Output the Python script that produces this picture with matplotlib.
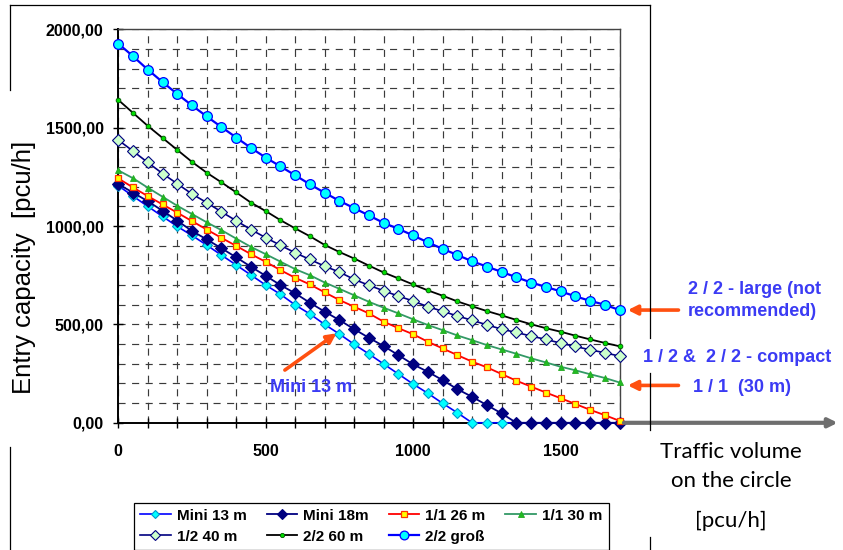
import matplotlib
matplotlib.use("Agg")
import matplotlib.pyplot as plt
from matplotlib.ticker import MultipleLocator, FuncFormatter, FixedLocator
from matplotlib.lines import Line2D

# ---------------- data ----------------
traffic = list(range(0, 1701, 50))  # circulating traffic volume [pcu/h]

mini_13 = [1205, 1152, 1100, 1049, 998, 952, 903, 852, 802, 751, 700, 653, 599, 553,
           500, 451, 399, 350, 299, 248, 197, 150, 99, 51, 0,
           0, 0, 0, 0, 0, 0, 0, 0, 0, 0]
mini_18 = [1213, 1170, 1126, 1078, 1027, 975, 932, 887, 841, 793, 747, 700, 658, 610,
           565, 522, 476, 432, 390, 344, 297, 259, 217, 171, 132, 90, 48,
           0, 0, 0, 0, 0, 0, 0, 0]
r11_26 = [1242, 1196, 1152, 1110, 1068, 1025, 982, 940, 899, 857, 818, 776, 737, 703,
          663, 624, 590, 556, 514, 481, 450, 412, 378, 344, 311, 282, 248, 214, 184,
          154, 125, 96, 66, 39, 10]
r11_30 = [1283, 1243, 1195, 1149, 1103, 1061, 1019, 979, 936, 894, 857, 819, 781, 750,
          713, 681, 648, 615, 585, 556, 526, 497, 471, 444, 420, 395, 373, 351, 328,
          307, 285, 267, 247, 228, 205]
r12_40 = [1437, 1381, 1323, 1267, 1215, 1163, 1119, 1072, 1027, 982, 941, 902, 864, 830,
          796, 766, 729, 699, 671, 644, 619, 590, 567, 543, 521, 498, 476, 459, 441,
          424, 405, 388, 371, 356, 339]
r22_60 = [1641, 1575, 1509, 1448, 1387, 1326, 1271, 1222, 1171, 1119, 1076, 1030, 988,
          948, 904, 868, 835, 799, 764, 734, 703, 673, 646, 617, 592, 568, 546, 523,
          501, 481, 463, 443, 424, 406, 389]
r22_gross = [1927, 1863, 1795, 1732, 1671, 1613, 1557, 1503, 1450, 1397, 1348, 1303, 1258,
             1212, 1169, 1128, 1091, 1054, 1016, 986, 952, 917, 884, 853, 821, 794, 767,
             740, 713, 691, 668, 643, 620, 600, 573]

series_labels = ["Mini 13 m", "Mini 18m", "1/1 26 m", "1/1 30 m", "1/2 40 m", "2/2 60 m", "2/2 groß"]
x_tick_labels = ["0", "500", "1000", "1500"]

# ---------------- figure ----------------
W, H = 843, 550
fig = plt.figure(figsize=(W / 100, H / 100), dpi=100)
fig.patch.set_facecolor("white")

def fx(px):
    return px / W

def fy(py):
    return 1 - py / H

ax = fig.add_axes([fx(118.3), fy(422.8), fx(619.5) - fx(118.3), fy(29.3) - fy(422.8)])
ax.set_xlim(0, 1700)
ax.set_ylim(0, 2000)

styles = [
    dict(color="#0000FF", lw=1.2, marker="D", ms=4.8, mfc="#00FFFF", mec="#0099CC", mew=0.8),
    dict(color="#000080", lw=1.3, marker="D", ms=6.0, mfc="#000080", mec="#000080", mew=0.8),
    dict(color="#FF0000", lw=1.3, marker="s", ms=4.4, mfc="#FFFF00", mec="#FF3300", mew=0.9),
    dict(color="#339966", lw=1.3, marker="^", ms=5.0, mfc="#22BB22", mec="#22AA22", mew=0.6),
    dict(color="#000080", lw=1.2, marker="D", ms=6.0, mfc="#CCFFCC", mec="#000080", mew=0.8),
    dict(color="#000000", lw=1.3, marker="o", ms=3.4, mfc="#00DD00", mec="#005500", mew=0.6),
    dict(color="#0000FF", lw=1.6, marker="o", ms=7.0, mfc="#00FFFF", mec="#0000FF", mew=0.9),
]
all_series = [mini_13, mini_18, r11_26, r11_30, r12_40, r22_60, r22_gross]
handles = []
for vals, lab, st in zip(all_series, series_labels, styles):
    h, = ax.plot(traffic, vals, label=lab, clip_on=False, zorder=3, **st)
    handles.append(h)

# grid & ticks
ax.xaxis.set_major_locator(FixedLocator([0, 500, 1000, 1500]))
ax.xaxis.set_minor_locator(MultipleLocator(100))
ax.yaxis.set_major_locator(MultipleLocator(500))
ax.yaxis.set_minor_locator(MultipleLocator(100))
ax.set_xticklabels(x_tick_labels)
ax.yaxis.set_major_formatter(FuncFormatter(lambda v, p: f"{v:.2f}".replace(".", ",")))
ax.set_axisbelow(True)
ax.grid(True, which="both", color="#3A3A3A", lw=0.85, linestyle=(0, (6, 5.5)))
ax.tick_params(axis="both", which="major", direction="inout", length=7, width=1, color="black")
ax.tick_params(axis="x", which="minor", direction="inout", length=7, width=1, color="black")
ax.tick_params(axis="y", which="minor", length=0)
ax.tick_params(axis="y", which="major", pad=7)
ax.tick_params(axis="x", which="major", pad=12)
for lab in ax.get_xticklabels() + ax.get_yticklabels():
    lab.set_fontfamily("Liberation Sans")
    lab.set_fontweight("bold")
    lab.set_fontsize(11.5)
for s in ["left", "bottom"]:
    ax.spines[s].set_linewidth(1.4)
    ax.spines[s].set_color("black")
for s in ["top", "right"]:
    ax.spines[s].set_linewidth(1.0)
    ax.spines[s].set_color("#444444")

# legend (row-wise order as in Excel)
order = [0, 4, 1, 5, 2, 6, 3]
leg = fig.legend([handles[i] for i in order], [series_labels[i] for i in order],
                 loc="upper left", bbox_to_anchor=(fx(134), fy(502.7)), ncol=4,
                 frameon=True, fancybox=False, edgecolor="black", framealpha=1,
                 prop=dict(family="Liberation Sans", weight="bold", size=11),
                 handlelength=2.0, handletextpad=0.4, columnspacing=1.3,
                 borderpad=0.4, labelspacing=0.45, borderaxespad=0, markerscale=0.9)
leg.get_frame().set_linewidth(0.9)

# axis titles
fig.text(fx(24), fy(267), "Entry capacity  [pcu/h]", rotation=90, ha="center", va="center",
         fontsize=18.5, family="Liberation Sans", color="black")
for txt, yy in [("Traffic volume", 452), ("on the circle", 481), ("[pcu/h]", 521)]:
    fig.text(fx(731), fy(yy), txt, ha="center", va="center", fontsize=16, family="Lato",
             color="black")

# annotations
blue = "#3B3BF4"
orange = "#FF5010"
tfont = dict(family="Liberation Sans", weight="bold", fontsize=13, color=blue)
fig.text(fx(688), fy(290), "2 / 2 - large (not", ha="left", va="center", **tfont)
fig.text(fx(688), fy(312), "recommended)", ha="left", va="center", **tfont)
fig.text(fx(643), fy(358), "1 / 2 &  2 / 2 - compact", ha="left", va="center", **tfont)
fig.text(fx(693), fy(387), "1 / 1  (30 m)", ha="left", va="center", **tfont)
fig.text(fx(270), fy(387), "Mini 13 m", ha="left", va="center", **tfont)

arr = dict(arrowstyle="-|>", color=orange, lw=2.6, mutation_scale=14, shrinkA=0, shrinkB=0)
ax.annotate("", xy=(traffic[-1] + 28, r22_gross[-1]), xytext=(traffic[-1] + 200, r22_gross[-1]),
            arrowprops=arr, annotation_clip=False)
ax.annotate("", xy=(traffic[-1] + 28, r11_30[-1] - 15), xytext=(traffic[-1] + 200, r11_30[-1] - 15),
            arrowprops=arr, annotation_clip=False)
ax.annotate("", xy=(740, 455), xytext=(565, 268), arrowprops=arr, annotation_clip=False)

# grey arrow continuing the x axis
ax.annotate("", xy=(2440, 0), xytext=(traffic[-1] + 15, 0),
            arrowprops=dict(arrowstyle="-|>", color="#6E6E6E", lw=3.0, mutation_scale=13,
                            shrinkA=0, shrinkB=0), annotation_clip=False, zorder=5)

# outer chart-area frame (partly hidden behind labels)
frame = [((10, 5), (650, 5)), ((10, 5), (10, 90)), ((10, 447), (10, 550)),
         ((650, 5), (650, 338)), ((650, 373), (650, 430)), ((650, 537), (650, 550))]
for (x0, y0), (x1, y1) in frame:
    fig.add_artist(Line2D([fx(x0), fx(x1)], [fy(y0), fy(y1)], transform=fig.transFigure,
                          color="black", lw=0.9))

fig.savefig("out.png", dpi=100, facecolor="white")
